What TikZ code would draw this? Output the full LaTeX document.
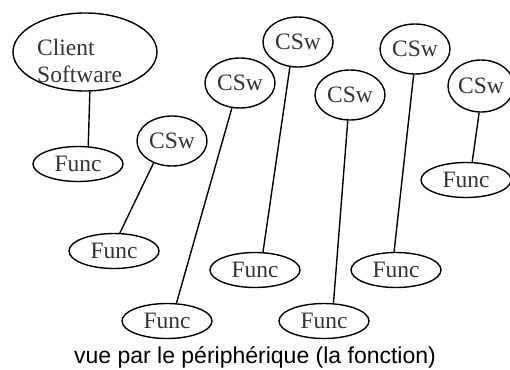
\documentclass[tikz,border=0pt]{standalone}
\usepackage{fontspec}
\setmainfont{Liberation Serif}
\newfontfamily\captionfont{Liberation Sans}
\usetikzlibrary{shapes.geometric}

\begin{document}
\begin{tikzpicture}[x=1pt,y=-1pt,
  bubble/.style={ellipse, draw, line width=1.4pt, inner sep=0pt,
                 text=black!80, font=\fontsize{23.5}{27}\selectfont},
  cswnode/.style={bubble, minimum width=70pt, minimum height=50pt},
  funcnode/.style={bubble, minimum width=90pt, minimum height=35pt},
  link/.style={line width=1.4pt}]
\useasboundingbox (0,0) rectangle (510,369);

% client software and its function
\node[bubble, minimum width=144pt, minimum height=78pt] (client) at (85,52) {};
\node[anchor=west, align=left, inner sep=0pt, text=black!80,
      font=\fontsize{23.5}{27}\selectfont] (clientlabel) at (37,61) {Client\\Software};
\node[funcnode] (f1) at (78,164) {Func};

% client software copies
\node[cswnode] (c1) at (172,141) {CSw};
\node[cswnode] (c2) at (240,83) {CSw};
\node[cswnode] (c3) at (298,42) {CSw};
\node[cswnode] (c4) at (350,95) {CSw};
\node[cswnode] (c5) at (415,49) {CSw};
\node[cswnode, minimum width=66pt, minimum height=52pt] (c6) at (481,86) {CSw};

% functions
\node[funcnode] (f2) at (114,251) {Func};
\node[funcnode] (f3) at (167,321) {Func};
\node[funcnode] (f4) at (255,270) {Func};
\node[funcnode] (f5) at (324,321) {Func};
\node[funcnode] (f6) at (396,270) {Func};
\node[funcnode] (f7) at (466,180) {Func};

% connectors
\draw[link] (client.277) -- (f1.60);
\draw[link] (c1.230) -- (f2.72);
\draw[link] (c2.252) -- (f3.62);
\draw[link] (c3.252) -- (f4.66);
\draw[link] (c4.265) -- (f5.62);
\draw[link] (c5.267) -- (f6.96);
\draw[link] (c6.266) -- (f7.71);

% caption
\node[anchor=base, inner sep=0pt, font=\captionfont\fontsize{23}{27}\selectfont]
  (caption) at (255,363.5) {vue par le périphérique (la fonction)};
\end{tikzpicture}
\end{document}
